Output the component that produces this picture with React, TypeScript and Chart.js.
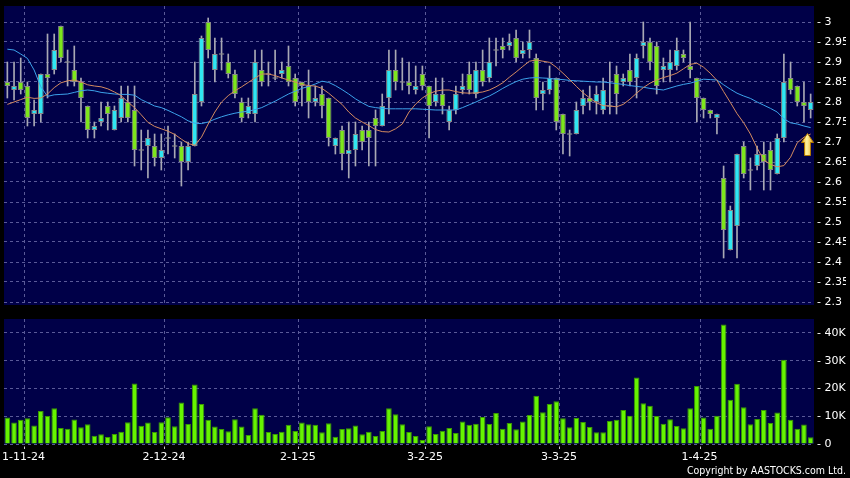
import React, { useEffect, useRef } from 'react';
import { Chart, registerables } from 'chart.js';

Chart.register(...registerables);

const categories = [
  '29-10-24', '30-10-24', '31-10-24',
  '1-11-24', '4-11-24', '5-11-24', '6-11-24', '7-11-24', '8-11-24', '11-11-24', '12-11-24', '13-11-24', '14-11-24', '15-11-24',
  '18-11-24', '19-11-24', '20-11-24', '21-11-24', '22-11-24', '25-11-24', '26-11-24', '27-11-24', '28-11-24', '29-11-24',
  '2-12-24', '3-12-24', '4-12-24', '5-12-24', '6-12-24', '9-12-24', '10-12-24', '11-12-24', '12-12-24', '13-12-24',
  '16-12-24', '17-12-24', '18-12-24', '19-12-24', '20-12-24', '23-12-24', '24-12-24', '27-12-24', '30-12-24', '31-12-24',
  '2-1-25', '3-1-25', '6-1-25', '7-1-25', '8-1-25', '9-1-25', '10-1-25', '13-1-25', '14-1-25', '15-1-25', '16-1-25', '17-1-25',
  '20-1-25', '21-1-25', '22-1-25', '23-1-25', '24-1-25', '27-1-25', '28-1-25',
  '3-2-25', '4-2-25', '5-2-25', '6-2-25', '7-2-25', '10-2-25', '11-2-25', '12-2-25', '13-2-25', '14-2-25',
  '17-2-25', '18-2-25', '19-2-25', '20-2-25', '21-2-25', '24-2-25', '25-2-25', '26-2-25', '27-2-25', '28-2-25',
  '3-3-25', '4-3-25', '5-3-25', '6-3-25', '7-3-25', '10-3-25', '11-3-25', '12-3-25', '13-3-25', '14-3-25',
  '17-3-25', '18-3-25', '19-3-25', '20-3-25', '21-3-25', '24-3-25', '25-3-25', '26-3-25', '27-3-25', '28-3-25', '31-3-25',
  '1-4-25', '2-4-25', '3-4-25', '7-4-25', '8-4-25', '9-4-25', '10-4-25', '11-4-25', '14-4-25', '15-4-25', '16-4-25', '17-4-25',
  '22-4-25', '23-4-25', '24-4-25', '25-4-25', '28-4-25',
];

const openPrices = [
  2.85, 2.83, 2.85, 2.84, 2.77, 2.77, 2.87, 2.88, 2.99, 2.90,
  2.88, 2.85, 2.79, 2.73, 2.75, 2.79, 2.73, 2.76, 2.80, 2.78,
  2.68, 2.69, 2.69, 2.66, 2.71, 2.69, 2.69, 2.65, 2.69, 2.80,
  3.00, 2.88, 2.92, 2.90, 2.87, 2.80, 2.77, 2.77, 2.88, 2.87,
  2.86, 2.87, 2.89, 2.86, 2.85, 2.84, 2.80, 2.82, 2.81, 2.69,
  2.73, 2.67, 2.68, 2.73, 2.73, 2.76, 2.74, 2.81, 2.88, 2.85,
  2.85, 2.83, 2.87, 2.84, 2.80, 2.82, 2.75, 2.78, 2.83, 2.87,
  2.82, 2.88, 2.86, 2.93, 2.94, 2.94, 2.96, 2.92, 2.93, 2.91,
  2.82, 2.83, 2.86, 2.77, 2.72, 2.72, 2.79, 2.81, 2.80, 2.78,
  2.79, 2.87, 2.85, 2.88, 2.86, 2.94, 2.95, 2.94, 2.88, 2.88,
  2.89, 2.92, 2.89, 2.86, 2.81, 2.78, 2.76, 2.61, 2.43, 2.49,
  2.69, 2.63, 2.64, 2.67, 2.68, 2.62, 2.71, 2.86, 2.84, 2.80, 2.78,
];
const highPrices = [
  2.90, 2.90, 2.91, 2.85, 2.805, 2.87, 2.97, 2.97, 2.99, 2.93,
  2.94, 2.86, 2.79, 2.75, 2.80, 2.80, 2.79, 2.84, 2.84, 2.84,
  2.73, 2.73, 2.72, 2.72, 2.74, 2.72, 2.70, 2.70, 2.90, 2.965,
  3.01, 2.96, 2.96, 2.92, 2.88, 2.81, 2.81, 2.93, 2.93, 2.90,
  2.93, 2.90, 2.94, 2.87, 2.85, 2.88, 2.84, 2.84, 2.81, 2.71,
  2.74, 2.75, 2.75, 2.74, 2.75, 2.78, 2.82, 2.93, 2.93, 2.91,
  2.90, 2.89, 2.89, 2.84, 2.86, 2.86, 2.79, 2.84, 2.87, 2.90,
  2.90, 2.93, 2.96, 2.96, 2.96, 2.97, 2.98, 2.95, 2.98, 2.92,
  2.85, 2.89, 2.86, 2.77, 2.73, 2.80, 2.83, 2.84, 2.84, 2.86,
  2.90, 2.89, 2.87, 2.92, 2.92, 3.00, 2.96, 2.95, 2.91, 2.93,
  2.96, 2.93, 3.00, 2.86, 2.81, 2.78, 2.77, 2.64, 2.54, 2.67,
  2.70, 2.66, 2.69, 2.70, 2.70, 2.72, 2.92, 2.90, 2.84, 2.85, 2.82,
];
const lowPrices = [
  2.81, 2.805, 2.82, 2.74, 2.74, 2.75, 2.81, 2.87, 2.90, 2.84,
  2.84, 2.75, 2.71, 2.71, 2.74, 2.73, 2.73, 2.75, 2.75, 2.64,
  2.63, 2.61, 2.64, 2.63, 2.67, 2.66, 2.59, 2.63, 2.69, 2.79,
  2.91, 2.85, 2.88, 2.86, 2.81, 2.75, 2.76, 2.75, 2.84, 2.84,
  2.855, 2.86, 2.84, 2.79, 2.79, 2.76, 2.79, 2.76, 2.69, 2.67,
  2.63, 2.61, 2.64, 2.68, 2.64, 2.64, 2.74, 2.77, 2.83, 2.83,
  2.82, 2.82, 2.83, 2.71, 2.79, 2.77, 2.73, 2.77, 2.82, 2.82,
  2.81, 2.84, 2.85, 2.89, 2.91, 2.93, 2.90, 2.91, 2.91, 2.78,
  2.78, 2.82, 2.73, 2.67, 2.665, 2.72, 2.77, 2.78, 2.77, 2.77,
  2.77, 2.77, 2.84, 2.84, 2.81, 2.91, 2.88, 2.82, 2.85, 2.85,
  2.88, 2.90, 2.86, 2.75, 2.76, 2.76, 2.72, 2.41, 2.43, 2.41,
  2.61, 2.58, 2.63, 2.58, 2.58, 2.62, 2.70, 2.82, 2.79, 2.75, 2.76,
];
const closePrices = [
  2.84, 2.84, 2.83, 2.76, 2.78, 2.87, 2.86, 2.93, 2.91, 2.90,
  2.85, 2.81, 2.73, 2.74, 2.76, 2.77, 2.78, 2.81, 2.76, 2.68,
  2.68, 2.71, 2.66, 2.68, 2.71, 2.69, 2.65, 2.69, 2.82, 2.96,
  2.93, 2.92, 2.92, 2.87, 2.82, 2.76, 2.79, 2.90, 2.85, 2.87,
  2.86, 2.88, 2.85, 2.80, 2.84, 2.80, 2.81, 2.79, 2.71, 2.71,
  2.67, 2.68, 2.72, 2.70, 2.71, 2.74, 2.79, 2.88, 2.85, 2.85,
  2.84, 2.84, 2.84, 2.79, 2.82, 2.79, 2.78, 2.82, 2.84, 2.83,
  2.88, 2.85, 2.90, 2.93, 2.93, 2.95, 2.91, 2.93, 2.95, 2.81,
  2.83, 2.86, 2.75, 2.72, 2.72, 2.78, 2.81, 2.80, 2.82, 2.83,
  2.79, 2.82, 2.86, 2.85, 2.91, 2.95, 2.90, 2.84, 2.89, 2.90,
  2.93, 2.91, 2.88, 2.81, 2.78, 2.77, 2.77, 2.48, 2.53, 2.67,
  2.62, 2.63, 2.67, 2.65, 2.63, 2.71, 2.85, 2.83, 2.80, 2.79, 2.80,
];

const maShort = [
  2.794, 2.80, 2.806, 2.812, 2.809, 2.81, 2.82, 2.836, 2.848, 2.853,
  2.855, 2.85, 2.843, 2.84, 2.838, 2.833, 2.825, 2.816, 2.80, 2.786,
  2.768, 2.749, 2.739, 2.733, 2.727, 2.719, 2.707, 2.696, 2.692, 2.712,
  2.745, 2.775, 2.80, 2.816, 2.828, 2.838, 2.849, 2.86, 2.87, 2.87,
  2.866, 2.86, 2.855, 2.85, 2.844, 2.841, 2.84, 2.834, 2.822, 2.808,
  2.794, 2.775, 2.76, 2.75, 2.741, 2.731, 2.726, 2.725, 2.733, 2.745,
  2.775, 2.795, 2.81, 2.821, 2.827, 2.83, 2.83, 2.826, 2.823, 2.822,
  2.823, 2.825, 2.83, 2.838, 2.848, 2.862, 2.875, 2.889, 2.902, 2.905,
  2.902, 2.899, 2.887, 2.872, 2.856, 2.839, 2.823, 2.81, 2.798, 2.791,
  2.79, 2.788, 2.794, 2.807, 2.822, 2.836, 2.847, 2.855, 2.861, 2.866,
  2.872, 2.883, 2.894, 2.897, 2.887, 2.872, 2.854, 2.826, 2.799, 2.771,
  2.748, 2.72, 2.685, 2.655, 2.644, 2.638, 2.641, 2.662, 2.698, 2.712, 2.72,
];
const maLong = [
  2.932, 2.93, 2.92, 2.909, 2.88, 2.838, 2.814, 2.818, 2.819, 2.82,
  2.824, 2.828, 2.83, 2.828, 2.824, 2.822, 2.82, 2.819, 2.819, 2.817,
  2.806, 2.798, 2.79, 2.786, 2.779, 2.771, 2.763, 2.753, 2.747, 2.746,
  2.75, 2.757, 2.763, 2.768, 2.772, 2.775, 2.777, 2.781, 2.786, 2.794,
  2.802, 2.811, 2.82, 2.827, 2.834, 2.839, 2.845, 2.852, 2.849, 2.841,
  2.831, 2.82, 2.808, 2.798, 2.789, 2.786, 2.784, 2.783, 2.783, 2.783,
  2.783, 2.783, 2.782, 2.781, 2.78, 2.78, 2.78, 2.78, 2.786, 2.793,
  2.80, 2.808, 2.815, 2.824, 2.834, 2.843, 2.851, 2.857, 2.86, 2.861,
  2.86, 2.859, 2.857, 2.856, 2.854, 2.853, 2.852, 2.851, 2.85, 2.85,
  2.848, 2.846, 2.844, 2.841, 2.839, 2.837, 2.834, 2.832, 2.83, 2.835,
  2.84, 2.844, 2.847, 2.852, 2.857, 2.856, 2.855, 2.843, 2.832, 2.822,
  2.815, 2.809, 2.80, 2.792, 2.784, 2.775, 2.758, 2.748, 2.745, 2.74, 2.736,
];

// volume in thousands of shares
const volumeK = [
  9.5, 7.7, 8.7, 9.3, 6.7, 11.9, 10.1, 12.9, 5.8, 5.5,
  8.8, 6.0, 7.1, 3.0, 3.5, 2.5, 3.6, 4.4, 7.8, 21.8,
  6.6, 7.7, 4.3, 7.8, 9.6, 6.4, 14.9, 7.2, 21.4, 14.4,
  8.7, 6.3, 5.4, 4.6, 8.9, 6.3, 3.2, 12.9, 10.5, 4.3,
  3.6, 4.4, 6.9, 4.7, 7.7, 7.1, 6.9, 4.2, 7.5, 2.6,
  5.4, 5.7, 6.7, 3.5, 4.4, 2.9, 4.7, 12.9, 10.7, 7.1,
  4.3, 2.9, 1.4, 6.4, 3.6, 4.8, 5.8, 4.0, 8.1, 6.9,
  7.3, 9.7, 7.2, 11.2, 5.5, 7.6, 5.3, 8.1, 10.4, 17.4,
  11.4, 14.4, 15.4, 9.3, 6.0, 9.4, 7.9, 6.1, 4.2, 4.2,
  8.3, 8.7, 12.2, 10.2, 23.9, 14.7, 13.8, 10.1, 7.3, 8.9,
  6.5, 5.7, 12.9, 20.9, 9.5, 5.5, 10.2, 43.0, 15.9, 21.7,
  13.2, 7.1, 9.0, 12.2, 7.6, 11.3, 30.3, 8.7, 5.5, 7.0, 2.4,
];

const xTickLabels = ['1-11-24', '2-12-24', '2-1-25', '3-2-25', '3-3-25', '1-4-25'];
// buy-signal arrow: bar position (category index, may fall between bars) and price
const signalArrow = [{ x: 119.5, y: 2.694 }];

const FONT = 'DejaVu Sans';
const NAVY = '#000048';
const GRID = '#5a5a98';
const CYAN = '#30e6f2';
const LIME = '#7ee61c';
const EDGE = '#8a8a8a';
const WICK = '#a8a8b4';
const VOL = '#66f400';
const VOL_EDGE = '#3a9a00';
const CLEAR = 'rgba(0,0,0,0)';

const isLabelIndex = (i: number) => xTickLabels.includes(categories[i]);

const panelBg = {
  id: 'panelBg',
  beforeDraw(chart: any) {
    const { ctx, chartArea: a, width, height } = chart;
    ctx.save();
    ctx.fillStyle = '#000';
    ctx.fillRect(0, 0, width, height);
    ctx.fillStyle = NAVY;
    ctx.fillRect(a.left, a.top, a.right - a.left, a.bottom - a.top);
    ctx.restore();
  },
};

function makeArrow() {
  const c = document.createElement('canvas');
  c.width = 13;
  c.height = 23;
  const g = c.getContext('2d')!;
  const grad = g.createLinearGradient(0, 0, 13, 0);
  grad.addColorStop(0, '#e8a400');
  grad.addColorStop(0.45, '#fff4a0');
  grad.addColorStop(1, '#e09a00');
  g.beginPath();
  g.moveTo(6.5, 0.5);
  g.lineTo(12.5, 9.5);
  g.lineTo(9.5, 9.5);
  g.lineTo(9.5, 22.5);
  g.lineTo(3.5, 22.5);
  g.lineTo(3.5, 9.5);
  g.lineTo(0.5, 9.5);
  g.closePath();
  g.fillStyle = grad;
  g.fill();
  g.strokeStyle = '#b07800';
  g.lineWidth = 1;
  g.stroke();
  return c;
}

export default function App() {
  const priceRef = useRef<HTMLCanvasElement>(null);
  const volRef = useRef<HTMLCanvasElement>(null);

  useEffect(() => {
    Chart.defaults.font.family = FONT;
    const arrowImg = makeArrow();
    const arrowPlugin = {
      id: 'signalArrow',
      afterDatasetsDraw(chart: any) {
        const xs = chart.scales.x;
        const ys = chart.scales.y;
        const ctx = chart.ctx;
        signalArrow.forEach((p) => {
          const px = xs.getPixelForValue(p.x);
          const py = ys.getPixelForValue(p.y);
          ctx.drawImage(arrowImg, Math.round(px - arrowImg.width / 2), Math.round(py - arrowImg.height / 2));
        });
      },
    };
    const bodies = openPrices.map((o, i) => {
      const c = closePrices[i];
      return Math.abs(c - o) < 0.003 ? [o - 0.002, o + 0.002] : [o, c];
    });
    const wicks = lowPrices.map((l, i) => [l, highPrices[i]]);
    const bodyColor = (ctx: any) => {
      const i = ctx.dataIndex;
      const o = openPrices[i];
      const c = closePrices[i];
      if (Math.abs(c - o) < 0.003) return EDGE;
      return c > o ? CYAN : LIME;
    };
    const tickFont = { family: FONT, size: 11 };

    const price = new Chart(priceRef.current!, {
      type: 'bar',
      data: {
        labels: categories,
        datasets: [
          {
            type: 'line',
            data: maShort,
            borderColor: '#d48a60',
            borderWidth: 1,
            pointRadius: 0,
            tension: 0,
            order: 0,
          },
          {
            type: 'line',
            data: maLong,
            borderColor: '#3ca2ea',
            borderWidth: 1,
            pointRadius: 0,
            tension: 0,
            order: 0,
          },
          {
            type: 'bar',
            data: bodies as any,
            backgroundColor: bodyColor,
            borderColor: EDGE,
            borderWidth: 1,
            borderSkipped: false,
            barPercentage: 0.84,
            categoryPercentage: 1,
            grouped: false,
            order: 1,
          },
          {
            type: 'bar',
            data: wicks as any,
            backgroundColor: WICK,
            borderWidth: 0,
            barThickness: 1,
            grouped: false,
            order: 2,
          },
        ],
      },
      options: {
        animation: false,
        responsive: false,
        events: [],
        layout: { padding: { left: 4, right: 4, top: 6, bottom: 7 } },
        plugins: { legend: { display: false }, tooltip: { enabled: false } },
        scales: {
          x: {
            type: 'category',
            offset: true,
            grid: {
              offset: true,
              drawTicks: false,
              color: (c: any) => (isLabelIndex(c.index) ? GRID : CLEAR),
            },
            border: { display: false, dash: [3, 3] },
            ticks: { display: false },
            afterFit: (s: any) => {
              s.height = 0;
            },
          },
          y: {
            type: 'linear',
            position: 'right',
            min: 2.2925,
            max: 3.04,
            ticks: {
              stepSize: 0.05,
              includeBounds: false,
              color: '#ffffff',
              font: tickFont,
              padding: 3,
              callback: (v: any) => '- ' + Number(Number(v).toFixed(2)),
            },
            grid: { color: GRID, drawTicks: false },
            border: { display: false, dash: [3, 3] },
            afterFit: (s: any) => {
              s.width = 32;
              s.paddingTop = 0;
              s.paddingBottom = 0;
            },
          },
        } as any,
      },
      plugins: [panelBg, arrowPlugin],
    });

    const vol = new Chart(volRef.current!, {
      type: 'bar',
      data: {
        labels: categories,
        datasets: [
          {
            data: volumeK,
            backgroundColor: VOL,
            borderColor: VOL_EDGE,
            borderWidth: 1,
            borderSkipped: 'start',
            barPercentage: 0.84,
            categoryPercentage: 1,
          },
        ],
      },
      options: {
        animation: false,
        responsive: false,
        events: [],
        layout: { padding: { left: 4, right: 4, top: 7, bottom: 0 } },
        plugins: {
          legend: { display: false },
          tooltip: { enabled: false },
          title: {
            display: true,
            position: 'bottom',
            align: 'end',
            text: 'Copyright by AASTOCKS.com Ltd.',
            color: '#ffffff',
            font: { family: "'DejaVu Sans Condensed', 'DejaVu Sans'", size: 10.5, weight: 'normal' },
            padding: { top: 0, bottom: 0 },
          },
        },
        scales: {
          x: {
            type: 'category',
            offset: true,
            grid: {
              offset: true,
              tickLength: 5,
              tickBorderDash: [0, 2.5, 2.5, 50],
              color: (c: any) => (isLabelIndex(c.index) ? GRID : CLEAR),
              tickColor: (c: any) => (isLabelIndex(c.index) ? '#c8c8c8' : CLEAR),
            },
            border: { display: false, dash: [3, 3] },
            ticks: {
              autoSkip: false,
              maxRotation: 0,
              minRotation: 0,
              color: '#ffffff',
              font: tickFont,
              padding: 2,
              labelOffset: -4,
              callback: (_v: any, i: number) => (isLabelIndex(i) ? categories[i] : ''),
            },
            afterFit: (s: any) => {
              s.height = 21.4;
              s.paddingLeft = 0;
              s.paddingRight = 0;
            },
          },
          y: {
            type: 'linear',
            position: 'right',
            min: 0,
            max: 45,
            ticks: {
              stepSize: 10,
              includeBounds: false,
              color: '#ffffff',
              font: tickFont,
              padding: 3,
              callback: (v: any) => '- ' + (Number(v) === 0 ? '0' : Number(v) + 'K'),
            },
            grid: { color: GRID, drawTicks: false },
            border: { display: false, dash: [3, 3] },
            afterFit: (s: any) => {
              s.width = 32;
              s.paddingTop = 0;
              s.paddingBottom = 0;
            },
          },
        } as any,
      },
      plugins: [panelBg],
    });

    return () => {
      price.destroy();
      vol.destroy();
    };
  }, []);

  return (
    <div style={{ position: 'fixed', left: 0, top: 0, width: 850, height: 478, background: '#000', overflow: 'hidden' }}>
      <canvas ref={priceRef} width={850} height={312} style={{ position: 'absolute', left: 0, top: 0, display: 'block' }} />
      <canvas ref={volRef} width={850} height={166} style={{ position: 'absolute', left: 0, top: 312, display: 'block' }} />
    </div>
  );
}
